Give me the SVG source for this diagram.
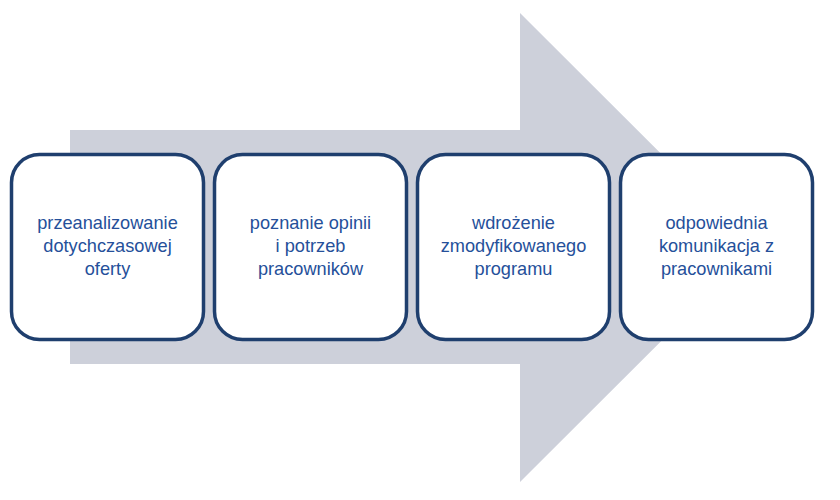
<svg xmlns="http://www.w3.org/2000/svg" width="840" height="500" viewBox="0 0 840 500">
<style>
.box{fill:#fff;stroke:#1F3F6E;stroke-width:3.5}
.t{font-family:"Liberation Sans",Arial,sans-serif;font-size:18.2px;fill:#25509A;text-anchor:middle}
</style>
<rect width="840" height="500" fill="#fff"/>
<g id="arrow">
<polygon points="70,130 520,130 520,13 755,247.5 520,482 520,364 70,364" fill="#CDD0DA"/>
</g>
<g id="connectors"></g>
<g id="node1">
<rect class="box" x="11.5" y="154.5" width="192" height="185" rx="28"/>
<text class="t" x="107.5" y="229">przeanalizowanie</text>
<text class="t" x="107.5" y="252">dotychczasowej</text>
<text class="t" x="107.5" y="275">oferty</text>
</g>
<g id="node2">
<rect class="box" x="214.5" y="154.5" width="192" height="185" rx="28"/>
<text class="t" x="310.5" y="229">poznanie opinii</text>
<text class="t" x="310.5" y="252">i potrzeb</text>
<text class="t" x="310.5" y="275">pracowników</text>
</g>
<g id="node3">
<rect class="box" x="417.5" y="154.5" width="192" height="185" rx="28"/>
<text class="t" x="513.5" y="229">wdrożenie</text>
<text class="t" x="513.5" y="252">zmodyfikowanego</text>
<text class="t" x="513.5" y="275">programu</text>
</g>
<g id="node4">
<rect class="box" x="620.5" y="154.5" width="192" height="185" rx="28"/>
<text class="t" x="716.5" y="229">odpowiednia</text>
<text class="t" x="716.5" y="252">komunikacja z</text>
<text class="t" x="716.5" y="275">pracownikami</text>
</g>
</svg>
